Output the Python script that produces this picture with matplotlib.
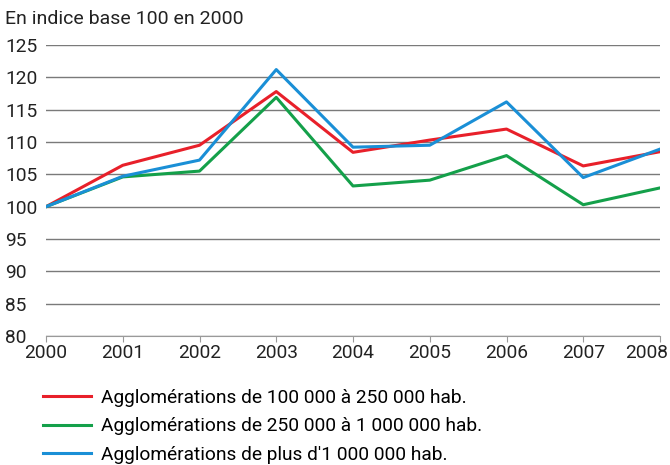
import matplotlib
matplotlib.use("Agg")
import matplotlib.pyplot as plt
import matplotlib.transforms as mtransforms

plt.rcParams['font.family'] = ['Roboto', 'DejaVu Sans']

years = [2000, 2001, 2002, 2003, 2004, 2005, 2006, 2007, 2008]
agglo_100_250 = [100, 106.4, 109.5, 117.8, 108.4, 110.3, 112.0, 106.3, 108.5]
agglo_250_1000 = [100, 104.6, 105.5, 116.9, 103.2, 104.1, 107.9, 100.3, 102.9]
agglo_1000_plus = [100, 104.7, 107.2, 121.2, 109.2, 109.5, 116.2, 104.5, 108.9]

labels = ["Agglomérations de 100 000 à 250 000 hab.",
          "Agglomérations de 250 000 à 1 000 000 hab.",
          "Agglomérations de plus d'1 000 000 hab."]
colors = ['#e8202a', '#14a04a', '#1a8fd6']
y_ticks = list(range(80, 126, 5))

fig = plt.figure(figsize=(6.7, 4.65), dpi=100)
ax = fig.add_axes([46 / 670, 1 - 336 / 465, 614 / 670, 291 / 465])

for vals, lab, col in zip([agglo_100_250, agglo_250_1000, agglo_1000_plus], labels, colors):
    ax.plot(years, vals, color=col, linewidth=2.2, label=lab, zorder=3)

ax.set_xlim(2000, 2008)
ax.set_ylim(80, 125)
ax.set_xticks(years)
ax.set_yticks(y_ticks)
ax.grid(axis='y', color='#7a7a7a', linewidth=1.0)
ax.set_axisbelow(True)
for s in ['top', 'right', 'left']:
    ax.spines[s].set_visible(False)
ax.spines['bottom'].set_color('#9a9a9a')
ax.tick_params(axis='y', length=0, labelsize=13.8, pad=0, colors='#222222')
ax.tick_params(axis='x', length=4, color='#9a9a9a', labelsize=13.8, pad=2, colors='#222222')
for lbl in ax.get_yticklabels():
    lbl.set_horizontalalignment('left')
    lbl.set_x(-41 / 614)

# last year label pushed inside the figure, as in the original
last = ax.get_xticklabels()[-1]
last.set_horizontalalignment('right')
last.set_transform(last.get_transform() + mtransforms.ScaledTranslation(8 / 100, 0, fig.dpi_scale_trans))

fig.text(5 / 670, 1 - 19 / 465, "En indice base 100 en 2000", fontsize=14,
         va='center', ha='left', color='#222222')

fig.legend(loc='upper left', bbox_to_anchor=(35 / 670, 1 - 381 / 465), frameon=False,
           fontsize=13.8, handlelength=2.5, handletextpad=0.55, labelspacing=0.55,
           borderaxespad=0)

fig.savefig('out.png', dpi=100)
